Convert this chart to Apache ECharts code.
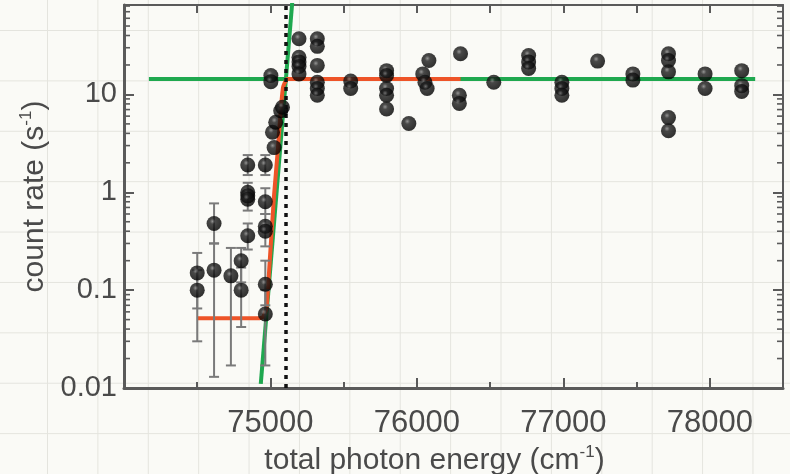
<!DOCTYPE html>
<html>
<head>
<meta charset="utf-8">
<script src="https://cdn.jsdelivr.net/npm/echarts@6/dist/echarts.min.js"></script>
<style>
  html, body { margin: 0; padding: 0; }
  body {
    width: 790px; height: 474px; overflow: hidden;
    background-color: #fafaf6;
    background-image: linear-gradient(to right, #e4e4de 1px, transparent 1px),
                      linear-gradient(to bottom, #e4e4de 1px, transparent 1px);
    background-size: 50.4px 50.4px;
    background-position: 47px 30px;
  }
  #chart { width: 790px; height: 474px; }
</style>
</head>
<body>
<div id="chart"></div>
<script>
// measured points (energy in cm^-1, count rate in s^-1)
var pointEnergy = [
  74500, 74500, 74615, 74615, 74730, 74800, 74800,
  74845, 74845, 74845, 74845, 74845,
  74965, 74965, 74965, 74965, 74965, 74965,
  75003, 75003, 75014, 75025, 75036, 75070, 75082,
  75195, 75195, 75195, 75195, 75195,
  75320, 75320, 75320, 75320, 75320, 75320,
  75548, 75548,
  75793, 75793, 75793, 75793, 75793,
  75945,
  76040, 76055, 76070, 76082,
  76290, 76290, 76298,
  76525,
  76763, 76763, 76763,
  76990, 76990, 76990,
  77234,
  77475, 77475,
  77718, 77718, 77718, 77718, 77718,
  77968, 77968,
  78218, 78218, 78218
];
var pointRate = [
  0.15, 0.1, 0.48, 0.16, 0.14, 0.2, 0.1,
  1.9, 1.0, 0.92, 0.85, 0.36,
  1.9, 0.8, 0.45, 0.4, 0.115, 0.057,
  15.6, 13.5, 4.1, 2.86, 5.2, 6.8, 7.4,
  37, 24, 21.5, 19.3, 16.2,
  37, 31, 19.8, 13.3, 11.5, 9.8,
  13.7, 11.5,
  17.5, 15.6, 11.5, 9.8, 7.1,
  5.05,
  16.2, 13.3, 11.5, 22.2,
  9.8, 8.1, 26,
  13.3,
  25, 21.5, 18.4,
  13.3, 11.5, 9.8,
  21.9,
  16.2, 14,
  26, 22.2, 17, 5.8, 4.25,
  16.2, 11.5,
  17.5, 12.3, 10.7
];

// error bars
var errEnergy = [74500, 74500, 74615, 74615, 74730, 74800, 74800,
  74845, 74845, 74845, 74965, 74965, 74965, 74965, 74965];
var errLow = [0.065, 0.03, 0.3, 0.013, 0.017, 0.12, 0.042,
  1.5, 0.65, 0.26, 1.5, 0.6, 0.28, 0.07, 0.017];
var errHigh = [0.24, 0.16, 0.77, 0.3, 0.27, 0.27, 0.17,
  2.4, 1.25, 0.48, 2.4, 1.1, 0.6, 0.2, 0.1];

// fit curves
var redEnergy = [74498, 74920, 74948, 74973, 74995, 75025, 75048, 75070, 75086, 75116, 76298];
var redRate = [0.0515, 0.0515, 0.053, 0.065, 0.197, 0.95, 2.45, 6.8, 11.8, 14.4, 14.4];
var greenFlatEnergy = [74170, 78310];
var greenFlatRate = [14.4, 14.4];
var greenRiseEnergy = [74934, 75150];
var greenRiseRate = [0.011, 92];
var thresholdEnergy = 75105;

// axes
var xMin = 74000, xMax = 78500;
var yMin = 0.01, yMax = 82;
var yMinorTicks = [0.02, 0.03, 0.04, 0.05, 0.06, 0.07, 0.08, 0.09,
  0.2, 0.3, 0.4, 0.5, 0.6, 0.7, 0.8, 0.9,
  2, 3, 4, 5, 6, 7, 8, 9,
  20, 30, 40, 50, 60, 70, 80];

var txt = '#4a4a4a';
var axisCol = '#5a5a5a';
var font = 'Liberation Sans, Arial, sans-serif';

function zip(a, b) {
  return a.map(function(v, i) { return [v, b[i]]; });
}

var errData = errEnergy.map(function(e, i) { return [e, errLow[i], errHigh[i]]; });

var chart = echarts.init(document.getElementById('chart'));
chart.setOption({
  backgroundColor: 'transparent',
  animation: false,
  grid: { left: 124, right: 7, top: 5, bottom: 86, outerBoundsMode: 'none', containLabel: false },
  xAxis: [
    {
      type: 'value', min: xMin, max: xMax, interval: 1000,
      position: 'bottom',
      name: '{n|total photon energy (cm}{s|-1}{n|)}',
      nameLocation: 'middle', nameGap: 52,
      nameTextStyle: {
        padding: [0, 38, 0, 0],
        rich: {
          n: { fontSize: 30, color: txt, fontFamily: font, lineHeight: 34 },
          s: { fontSize: 17, color: txt, fontFamily: font, verticalAlign: 'top', lineHeight: 20 }
        }
      },
      axisLine: { show: true, lineStyle: { color: axisCol, width: 3 } },
      axisTick: { inside: true, length: 10, lineStyle: { color: axisCol, width: 2 } },
      minorTick: { show: true, splitNumber: 2, length: 6, lineStyle: { color: axisCol, width: 2 } },
      axisLabel: {
        fontSize: 31, color: txt, fontFamily: font, margin: 20,
        showMinLabel: false, showMaxLabel: false,
        formatter: function(v) { return String(v); }
      },
      splitLine: { show: false }
    },
    {
      type: 'value', min: xMin, max: xMax, interval: 500,
      position: 'top',
      axisLine: { show: true, lineStyle: { color: axisCol, width: 2 } },
      axisTick: { inside: true, length: 8, lineStyle: { color: axisCol, width: 2 } },
      axisLabel: { show: false },
      splitLine: { show: false }
    }
  ],
  yAxis: [
    {
      type: 'log', logBase: 10, min: yMin, max: yMax,
      position: 'left',
      name: '{n|count rate (s}{s|-1}{n|)}',
      nameLocation: 'middle', nameGap: 51,
      nameTextStyle: {
        rich: {
          n: { fontSize: 30, color: txt, fontFamily: font, lineHeight: 34 },
          s: { fontSize: 17, color: txt, fontFamily: font, verticalAlign: 'top', lineHeight: 20 }
        }
      },
      axisLine: { show: true, lineStyle: { color: axisCol, width: 3 } },
      axisTick: { inside: true, length: 10, lineStyle: { color: axisCol, width: 2 } },
      axisLabel: { fontSize: 29, color: txt, fontFamily: font, margin: 7, showMaxLabel: false },
      splitLine: { show: false }
    },
    {
      type: 'log', logBase: 10, min: yMin, max: yMax,
      position: 'right',
      axisLine: { show: true, lineStyle: { color: axisCol, width: 2 } },
      axisTick: { inside: true, length: 10, lineStyle: { color: axisCol, width: 2 } },
      axisLabel: { show: false },
      splitLine: { show: false }
    }
  ],
  series: [
    {
      // log minor ticks on left and right frame
      type: 'custom',
      silent: true,
      clip: false,
      z: 5,
      data: yMinorTicks.map(function(v) { return [xMin, v]; }),
      renderItem: function(params, api) {
        var y = api.coord([xMin, api.value(1)])[1];
        var cs = params.coordSys;
        var st = { stroke: axisCol, lineWidth: 1.6 };
        return {
          type: 'group',
          children: [
            { type: 'line', shape: { x1: cs.x, y1: y, x2: cs.x + 6, y2: y }, style: st },
            { type: 'line', shape: { x1: cs.x + cs.width, y1: y, x2: cs.x + cs.width - 6, y2: y }, style: st }
          ]
        };
      }
    },
    {
      type: 'line',
      data: zip(greenFlatEnergy, greenFlatRate),
      symbol: 'none',
      lineStyle: { color: '#1fa84f', width: 4 },
      z: 2
    },
    {
      type: 'line',
      data: zip(greenRiseEnergy, greenRiseRate),
      symbol: 'none',
      clip: true,
      lineStyle: { color: '#1fa84f', width: 4 },
      z: 2
    },
    {
      type: 'line',
      data: zip(redEnergy, redRate),
      symbol: 'none',
      smooth: 0.15,
      lineStyle: { color: '#ee5428', width: 4 },
      z: 3,
      markLine: {
        silent: true,
        symbol: 'none',
        label: { show: false },
        lineStyle: { color: '#111', type: [4, 5], width: 3.5 },
        data: [{ xAxis: thresholdEnergy }]
      }
    },
    {
      type: 'custom',
      silent: true,
      z: 4,
      data: errData,
      encode: { x: 0, y: [1, 2] },
      renderItem: function(params, api) {
        var e = api.value(0);
        var p1 = api.coord([e, api.value(1)]);
        var p2 = api.coord([e, api.value(2)]);
        var w = 5;
        var st = { stroke: '#7a7a7a', lineWidth: 2 };
        return {
          type: 'group',
          children: [
            { type: 'line', shape: { x1: p1[0], y1: p1[1], x2: p2[0], y2: p2[1] }, style: st },
            { type: 'line', shape: { x1: p1[0] - w, y1: p1[1], x2: p1[0] + w, y2: p1[1] }, style: st },
            { type: 'line', shape: { x1: p2[0] - w, y1: p2[1], x2: p2[0] + w, y2: p2[1] }, style: st }
          ]
        };
      }
    },
    {
      type: 'scatter',
      data: zip(pointEnergy, pointRate),
      symbolSize: 15,
      z: 6,
      itemStyle: {
        color: {
          type: 'radial', x: 0.4, y: 0.36, r: 0.6,
          colorStops: [
            { offset: 0, color: '#7a7a7a' },
            { offset: 0.3, color: '#1c1c1c' },
            { offset: 1, color: '#000000' }
          ]
        }
      }
    }
  ]
});
</script>
</body>
</html>
